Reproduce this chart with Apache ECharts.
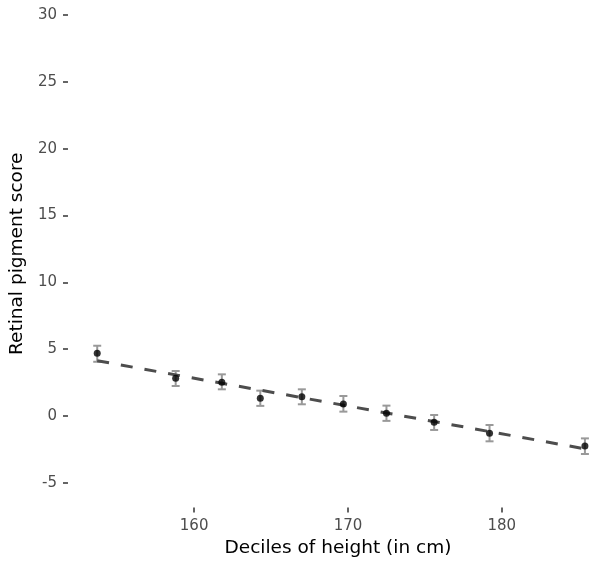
<!DOCTYPE html>
<html>
<head>
<meta charset="utf-8">
<script src="https://cdn.jsdelivr.net/npm/echarts@6/dist/echarts.min.js"></script>
<style>
  html, body { margin: 0; padding: 0; background: #fff; }
  #chart { width: 608px; height: 564px; }
</style>
</head>
<body>
<div id="chart"></div>
<script>
// Decile mean height (cm) and mean retinal pigment score with 95% interval
const heightDeciles = [153.7, 158.8, 161.8, 164.3, 167.0, 169.7, 172.5, 175.6, 179.2, 185.4];
const pigmentMean   = [4.69, 2.83, 2.53, 1.33, 1.45, 0.90, 0.21, -0.46, -1.29, -2.24];
const pigmentLower  = [4.06, 2.25, 2.00, 0.76, 0.88, 0.33, -0.36, -1.04, -1.89, -2.84];
const pigmentUpper  = [5.26, 3.37, 3.12, 1.90, 2.00, 1.50, 0.78, 0.08, -0.67, -1.67];

// Fitted linear trend, evaluated at the first and last decile
const trendX = [153.7, 185.4];
const trendY = [4.14, -2.45];

// Tick positions
const xTicks = [160, 170, 180];
const yTicks = [-5, 0, 5, 10, 15, 20, 25, 30];

const chart = echarts.init(document.getElementById('chart'), null, { renderer: 'canvas' });

const font = '"DejaVu Sans", sans-serif';

const points = heightDeciles.map((x, i) => [x, pigmentMean[i]]);
const intervals = heightDeciles.map((x, i) => [x, pigmentLower[i], pigmentUpper[i]]);
const trend = trendX.map((x, i) => [x, trendY[i]]);

const axisCommon = {
  axisLine: { show: false, onZero: false },
  splitLine: { show: false },
  axisTick: { show: true, length: 5, lineStyle: { color: '#333333', width: 1.5 } },
  axisLabel: { color: '#4d4d4d', fontSize: 15, fontFamily: font },
  nameTextStyle: { color: '#000000', fontSize: 18.5, fontFamily: font }
};

chart.setOption({
  backgroundColor: '#ffffff',
  animation: false,
  grid: { left: 67, right: 0, top: 0, bottom: 56.5, containLabel: false },
  xAxis: Object.assign({}, axisCommon, {
    type: 'value',
    min: 151.8,
    max: 186.9,
    name: 'Deciles of height (in cm)',
    nameLocation: 'middle',
    nameGap: 30,
    axisTick: Object.assign({}, axisCommon.axisTick, { customValues: xTicks }),
    axisLabel: Object.assign({}, axisCommon.axisLabel, { customValues: xTicks, margin: 11 })
  }),
  yAxis: Object.assign({}, axisCommon, {
    type: 'value',
    min: -6.84,
    max: 31.12,
    name: 'Retinal pigment score',
    nameLocation: 'middle',
    nameGap: 38,
    axisTick: Object.assign({}, axisCommon.axisTick, { customValues: yTicks }),
    axisLabel: Object.assign({}, axisCommon.axisLabel, { customValues: yTicks, margin: 11 })
  }),
  series: [
    {
      type: 'custom',
      name: 'interval',
      data: intervals,
      z: 2,
      renderItem: function (params, api) {
        const x = api.value(0);
        const lo = api.coord([x, api.value(1)]);
        const hi = api.coord([x, api.value(2)]);
        const half = 4;
        const style = { stroke: '#999999', lineWidth: 2 };
        return {
          type: 'group',
          children: [
            { type: 'line', shape: { x1: lo[0], y1: lo[1], x2: hi[0], y2: hi[1] }, style: style },
            { type: 'line', shape: { x1: lo[0] - half, y1: lo[1], x2: lo[0] + half, y2: lo[1] }, style: style },
            { type: 'line', shape: { x1: hi[0] - half, y1: hi[1], x2: hi[0] + half, y2: hi[1] }, style: style }
          ]
        };
      }
    },
    {
      type: 'line',
      name: 'trend',
      data: trend,
      symbol: 'none',
      z: 3,
      lineStyle: { color: '#4d4d4d', width: 3, type: [12, 12] }
    },
    {
      type: 'scatter',
      name: 'mean',
      data: points,
      symbol: 'circle',
      symbolSize: 7,
      z: 4,
      itemStyle: { color: '#000000' }
    }
  ]
});
</script>
</body>
</html>
